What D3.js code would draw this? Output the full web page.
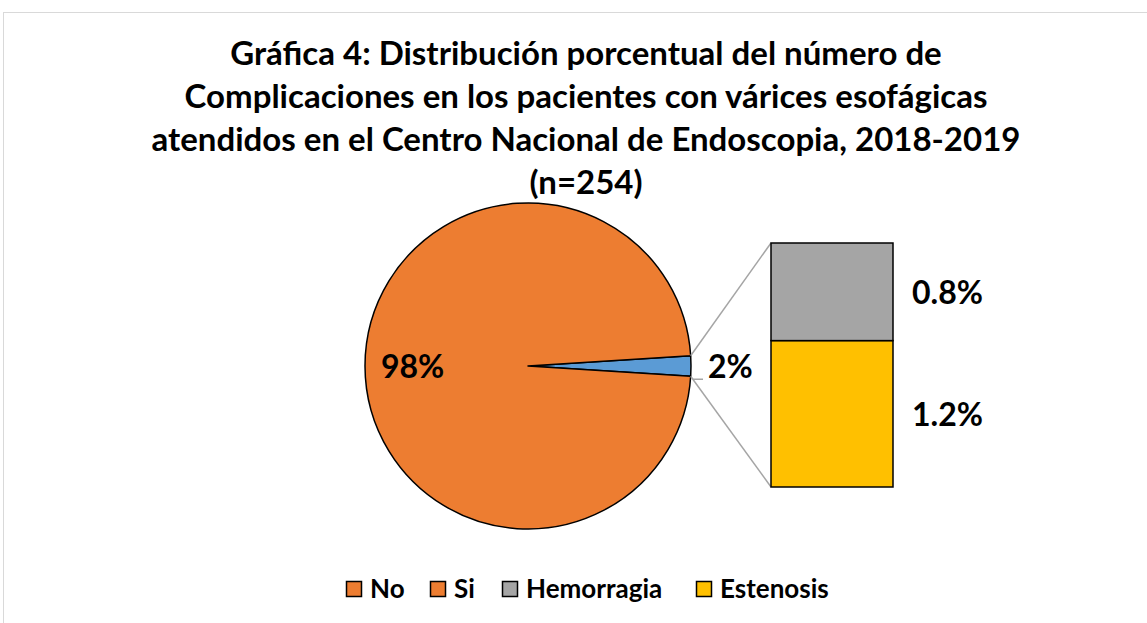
<!DOCTYPE html>
<html><head><meta charset="utf-8">
<script src="https://cdn.jsdelivr.net/npm/d3@7"></script>
<style>body{margin:0;background:#fff}svg{display:block}</style>
</head><body>
<svg id="c" width="1147" height="623"></svg>
<script>
const titleLines = ["Gráfica 4: Distribución porcentual del número de","Complicaciones en los pacientes con várices esofágicas","atendidos en el Centro Nacional de Endoscopia, 2018-2019","(n=254)"];
const pieCategories = ["Si","No"];
const pieValues = [2, 98];
const pieLabels = ["2%","98%"];
const barCategories = ["Estenosis","Hemorragia"];
const barValues = [1.2, 0.8];
const barLabels = ["1.2%","0.8%"];
const legendNames = ["No","Si","Hemorragia","Estenosis"];
const colors = {No:"#ED7D31", Si:"#5B9BD5", Hemorragia:"#A5A5A5", Estenosis:"#FFC000"};
const legendColors = ["#ED7D31","#ED7D31","#A5A5A5","#FFC000"];

const svg = d3.select("#c");
const font = "Lato, 'Open Sans', sans-serif";
svg.append("rect").attr("x",3.5).attr("y",12.5).attr("width",1300).attr("height",700)
  .attr("fill","#fff").attr("stroke","#d9d9d9").attr("stroke-width",1);

// title
svg.append("g").selectAll("text").data(titleLines).join("text")
  .attr("x",586).attr("y",(d,i)=>65+i*43).attr("text-anchor","middle")
  .attr("font-family",font).attr("font-weight","bold").attr("font-size",33).attr("fill","#000")
  .text(d=>d);

// pie
const cx=528, cy=366, R=163;
const delta = pieValues[0]/d3.sum(pieValues)*Math.PI;
const pie = d3.pie().sort(null).startAngle(Math.PI/2 - delta).endAngle(Math.PI/2 - delta + 2*Math.PI);
const arcs = pie(pieValues);
const arc = d3.arc().innerRadius(0).outerRadius(R);
const pg = svg.append("g").attr("transform",`translate(${cx},${cy})`);
pg.selectAll("path").data(arcs).join("path").attr("d",arc)
  .attr("fill",(d,i)=>colors[pieCategories[i]]).attr("stroke","#000").attr("stroke-width",1.5).attr("stroke-linejoin","round");

// bar
const bx0=771, bx1=893;
const y = d3.scaleLinear().domain([0, d3.sum(barValues)]).range([487, 243]);
const stacked = []; let acc=0;
barValues.forEach((v,i)=>{stacked.push({cat:barCategories[i],y0:acc,y1:acc+v,label:barLabels[i]}); acc+=v;});

// connectors
const a0 = arcs[0].startAngle, a1 = arcs[0].endAngle;
const pt = a => [cx + R*Math.sin(a), cy - R*Math.cos(a)];
const pTop = pt(a0), pBot = pt(a1);
svg.append("line").attr("x1",pTop[0]).attr("y1",pTop[1]).attr("x2",bx0).attr("y2",y(acc))
  .attr("stroke","#A5A5A5").attr("stroke-width",1.5);
svg.append("line").attr("x1",pBot[0]).attr("y1",pBot[1]).attr("x2",bx0).attr("y2",y(0))
  .attr("stroke","#A5A5A5").attr("stroke-width",1.5);

svg.append("g").selectAll("rect").data(stacked).join("rect")
  .attr("x",bx0).attr("width",bx1-bx0).attr("y",d=>y(d.y1)).attr("height",d=>y(d.y0)-y(d.y1))
  .attr("fill",d=>colors[d.cat]).attr("stroke","#000").attr("stroke-width",1.5);

svg.append("g").selectAll("text").data(stacked).join("text")
  .attr("x",912).attr("y",d=>(y(d.y0)+y(d.y1))/2 + 12)
  .attr("font-family",font).attr("font-weight","bold").attr("font-size",32).text(d=>d.label);

// pie labels
svg.append("line").attr("x1",pBot[0]+2).attr("y1",pBot[1]+3).attr("x2",703).attr("y2",pBot[1]+3)
  .attr("stroke","#A5A5A5").attr("stroke-width",1.5);
svg.append("text").attr("x",708).attr("y",378)
  .attr("font-family",font).attr("font-weight","bold").attr("font-size",32).text(pieLabels[0]);
svg.append("text").attr("x",381).attr("y",378)
  .attr("font-family",font).attr("font-weight","bold").attr("font-size",32).text(pieLabels[1]);

// legend
const lx = [346, 430, 502, 696];
const lg = svg.append("g");
legendNames.forEach((n,i)=>{
  lg.append("rect").attr("x",lx[i]+0.5).attr("y",581.5).attr("width",15).attr("height",15)
    .attr("fill",legendColors[i]).attr("stroke","#000").attr("stroke-width",1.5);
  lg.append("text").attr("x",lx[i]+24).attr("y",598)
    .attr("font-family",font).attr("font-weight","bold").attr("font-size",26).text(n);
});
</script>
</body></html>
